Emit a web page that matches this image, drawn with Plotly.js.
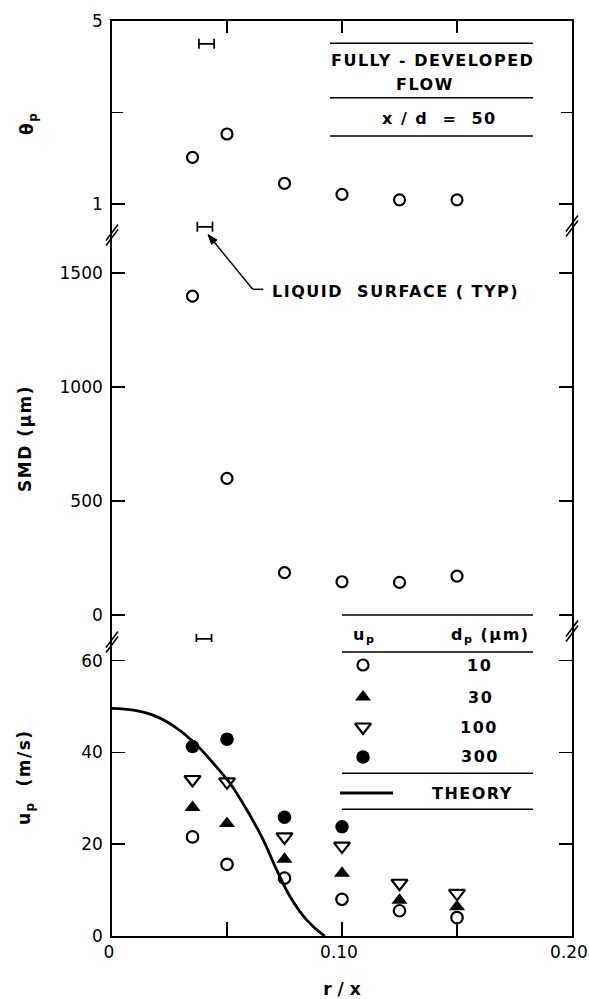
<!DOCTYPE html>
<html><head><meta charset="utf-8">
<script src="https://cdn.plot.ly/plotly-3.0.1.min.js"></script>
<style>
html,body{margin:0;padding:0;background:#fff;}
.annotation-text{letter-spacing:1.5px;}
</style>
</head><body><div id="chart" style="width:589px;height:999px;"></div>
<script>
// ---------------- data ----------------
const rOverX = [0.035, 0.05, 0.075, 0.10, 0.125, 0.15];
const thetaP = [2.02, 2.53, 1.45, 1.21, 1.09, 1.09];
const smd = [1400, 600, 186, 146, 143, 171];
const up10 = [21.6, 15.6, 12.6, 8.0, 5.5, 4.0];
const up30 = [28.0, 24.5, 16.7, 13.7, 7.8, 6.4];
const up100 = [34.1, 33.6, 21.6, 19.6, 11.5, 9.3];
const rOverX300 = [0.035, 0.05, 0.075, 0.10];
const up300 = [41.3, 42.9, 25.9, 23.8];
const theoryR = [0, 0.0093, 0.0194, 0.0281, 0.0368, 0.0441, 0.0513, 0.0586, 0.0658, 0.0716, 0.0774, 0.0846, 0.0919, 0.0926];
const theoryU = [49.6, 49.2, 47.8, 45.3, 41.6, 37.6, 33.3, 27.5, 20.9, 14.4, 8.6, 3.5, 0.2, 0];
// liquid surface bars (r/x centre and half width)
const surfR = [0.0411, 0.0404, 0.0400];
const surfHalf = 0.0033;
const surfTheta = [4.5, 0.5];
const surfSMD = [-105];
// ticks
const xTickVals = [0, 0.10, 0.20];
const xTickText = ['0', '0.10', '0.20'];
const xMinorVals = [0.05, 0.15];
const thetaTickVals = [1, 5];
const thetaMinorVals = [3];
const smdTickVals = [0, 500, 1000, 1500];
const upTickVals = [0, 20, 40, 60];
const legendSizes = ['10', '30', '100', '300'];

// ---------------- layout helpers ----------------
const L = 112, R = 572, T = 21, B = 936;
const px = v => (v - L) / (R - L);
const py = v => (B - v) / (B - T);
const FONT = 'DejaVu Sans';
const blk = '#000';

const legY = [665, 697, 727, 757].map(py);
const legX = px(363);

const mOpenCircle = s => ({symbol: 'circle-open', size: s, color: blk, line: {width: 2.2, color: blk}});
const mTriUp = {symbol: 'triangle-up', size: 14, color: blk};
const mTriDown = {symbol: 'triangle-down-open', size: 14, color: blk, line: {width: 2.2, color: blk}};
const mDot = {symbol: 'circle', size: 13.5, color: blk};

const traces = [
  {x: rOverX, y: thetaP, xaxis: 'x2', yaxis: 'y', mode: 'markers', marker: mOpenCircle(11)},
  {x: [surfR[0], surfR[1]], y: surfTheta, xaxis: 'x2', yaxis: 'y', mode: 'markers',
   marker: {size: 1, color: 'rgba(0,0,0,0)'},
   error_x: {type: 'constant', value: surfHalf, width: 5, thickness: 1.7, color: blk}},
  {x: rOverX, y: smd, xaxis: 'x', yaxis: 'y2', mode: 'markers', marker: mOpenCircle(11)},
  {x: [surfR[2]], y: surfSMD, xaxis: 'x', yaxis: 'y2', mode: 'markers',
   marker: {size: 1, color: 'rgba(0,0,0,0)'},
   error_x: {type: 'constant', value: surfHalf, width: 5, thickness: 1.7, color: blk}},
  {x: theoryR, y: theoryU, xaxis: 'x', yaxis: 'y3', mode: 'lines',
   line: {color: blk, width: 2.8, shape: 'spline'}},
  {x: rOverX, y: up10, xaxis: 'x', yaxis: 'y3', mode: 'markers', marker: mOpenCircle(11.5)},
  {x: rOverX, y: up30, xaxis: 'x', yaxis: 'y3', mode: 'markers', marker: mTriUp},
  {x: rOverX, y: up100, xaxis: 'x', yaxis: 'y3', mode: 'markers', marker: mTriDown},
  {x: rOverX300, y: up300, xaxis: 'x', yaxis: 'y3', mode: 'markers', marker: mDot},
  // legend samples on an overlay axis
  {x: [legX], y: [legY[0]], xaxis: 'x3', yaxis: 'y4', mode: 'markers', marker: mOpenCircle(11)},
  {x: [legX], y: [legY[1]], xaxis: 'x3', yaxis: 'y4', mode: 'markers', marker: mTriUp},
  {x: [legX], y: [legY[2]], xaxis: 'x3', yaxis: 'y4', mode: 'markers', marker: mTriDown},
  {x: [legX], y: [legY[3]], xaxis: 'x3', yaxis: 'y4', mode: 'markers', marker: mDot},
  {x: [px(340), px(393)], y: [py(793), py(793)], xaxis: 'x3', yaxis: 'y4', mode: 'lines',
   line: {color: blk, width: 2.8}}
];

const dBot = py(642), dTop = py(235);
const tickFont = {family: FONT, size: 17, color: blk};
const yBase = {showline: true, linecolor: blk, linewidth: 1.8, mirror: 'ticks', ticks: 'inside',
  ticklen: 13, tickwidth: 1.6, tickcolor: blk, showgrid: false, zeroline: false,
  tickfont: tickFont, fixedrange: true, anchor: 'x', tickmode: 'array', ticklabelstandoff: 4};

const hl = (y, x0, x1) => ({type: 'line', xref: 'paper', yref: 'paper', x0: px(x0), x1: px(x1),
  y0: py(y), y1: py(y), line: {color: blk, width: 1.5}});
const brk = (xp, yp) => [-2.5, 2.5].map(o => ({type: 'line', xref: 'paper', yref: 'paper',
  xsizemode: 'pixel', xanchor: xp, ysizemode: 'pixel', yanchor: yp,
  x0: -6, x1: 6, y0: -8 + o, y1: 8 + o, line: {color: blk, width: 1.5}}));

// leader arrow for "LIQUID SURFACE (TYP)"
const tipX = 208, tipY = 234.5, tailX = 252.7, tailY = 289.3;
const ux = (tipX - tailX) / Math.hypot(tipX - tailX, tipY - tailY);
const uy = (tipY - tailY) / Math.hypot(tipX - tailX, tipY - tailY);
const hb = [tipX - 10 * ux, tipY - 10 * uy];
const headPath = 'M' + px(tipX) + ',' + py(tipY) +
  ' L' + px(hb[0] - 3.5 * uy) + ',' + py(hb[1] + 3.5 * ux) +
  ' L' + px(hb[0] + 3.5 * uy) + ',' + py(hb[1] - 3.5 * ux) + ' Z';

const shapes = [
  hl(43.3, 330, 533), hl(97.7, 330, 533), hl(136, 330, 533),
  hl(615, 342, 533), hl(652, 342, 533), hl(773.3, 342, 533), hl(809.3, 342, 533),
  hl(289.3, 252.7, 263.3),
  {type: 'line', xref: 'paper', yref: 'paper', x0: px(tailX), y0: py(tailY), x1: px(hb[0]), y1: py(hb[1]),
   line: {color: blk, width: 1.4}},
  {type: 'path', xref: 'paper', yref: 'paper', path: headPath, fillcolor: blk, line: {color: blk, width: 1}},
  ...brk(0, py(235)), ...brk(0, py(642)), ...brk(1, py(226)), ...brk(1, py(631))
];

const aFont = {family: FONT, size: 16, color: blk, weight: 'bold'};
const ann = (text, x, y, opts = {}) => Object.assign({text, xref: 'paper', yref: 'paper',
  x: px(x), y: py(y), showarrow: false, font: aFont, xanchor: 'center', yanchor: 'middle'}, opts);
const tFont = {family: FONT, size: 17, color: blk, weight: 'bold'};

const annotations = [
  ann('FULLY - DEVELOPED', 432.5, 60),
  ann('FLOW', 425, 84),
  ann('x / d  =  50', 439, 119),
  ann('LIQUID  SURFACE ( TYP)', 270, 291, {xanchor: 'left'}),
  ann('u<sub>p</sub>', 364, 635),
  ann('d<sub>p</sub> (μm)', 490, 635),
  ann(legendSizes[0], 479, 665),
  ann(legendSizes[1], 480, 697),
  ann(legendSizes[2], 479, 727.7),
  ann(legendSizes[3], 480, 756.7),
  ann('THEORY', 472, 793),
  ann('θ<sub>p</sub>', 29, 124, {textangle: -90, font: tFont}),
  ann('SMD (μm)', 25, 439, {textangle: -90, font: tFont}),
  ann('u<sub>p</sub>  (m/s)', 25, 777, {textangle: -90, font: tFont})
];

const layout = {
  width: 589, height: 999, margin: {l: L, r: 589 - R, t: T, b: 999 - B},
  paper_bgcolor: '#fff', plot_bgcolor: 'rgba(0,0,0,0)', showlegend: false,
  xaxis: {domain: [0, 1], range: [0, 0.2], anchor: 'y3', showline: true, linecolor: blk, linewidth: 1.8,
    ticks: 'inside', ticklen: 14, tickwidth: 1.6, tickcolor: blk, tickmode: 'array',
    tickvals: xTickVals, ticktext: xTickText, showgrid: false, zeroline: false, tickfont: tickFont,
    minor: {tickmode: 'array', tickvals: xMinorVals, ticks: 'inside', ticklen: 14, tickwidth: 1.6, tickcolor: blk, showgrid: false},
    ticklabeloverflow: 'allow', ticklabelshift: -3,
    title: {text: 'r / x', font: {family: FONT, size: 17, color: blk, weight: 'bold'}, standoff: 22},
    fixedrange: true},
  xaxis2: {domain: [0, 1], range: [0, 0.2], anchor: 'y', side: 'top', showline: true, linecolor: blk,
    linewidth: 1.8, ticks: 'inside', ticklen: 12, tickwidth: 1.6, tickcolor: blk, tickmode: 'array',
    tickvals: xMinorVals.concat([0.10]), showticklabels: false, showgrid: false, zeroline: false, fixedrange: true},
  xaxis3: {domain: [0, 1], range: [0, 1], anchor: 'y4', visible: false, fixedrange: true},
  yaxis: Object.assign({}, yBase, {domain: [dTop, 1], range: [0.322, 5], anchor: 'x2',
    tickvals: thetaTickVals,
    minor: {tickmode: 'array', tickvals: thetaMinorVals, ticks: 'inside', ticklen: 11, tickwidth: 1.6, tickcolor: blk, showgrid: false}}),
  yaxis2: Object.assign({}, yBase, {domain: [dBot, dTop], range: [-118.5, 1668], tickvals: smdTickVals}),
  yaxis3: Object.assign({}, yBase, {domain: [0, dBot], range: [0, 64.07], tickvals: upTickVals}),
  yaxis4: {domain: [0, 1], range: [0, 1], anchor: 'x3', visible: false, fixedrange: true},
  shapes, annotations
};

Plotly.newPlot('chart', traces, layout, {staticPlot: true, displayModeBar: false});
</script></body></html>
